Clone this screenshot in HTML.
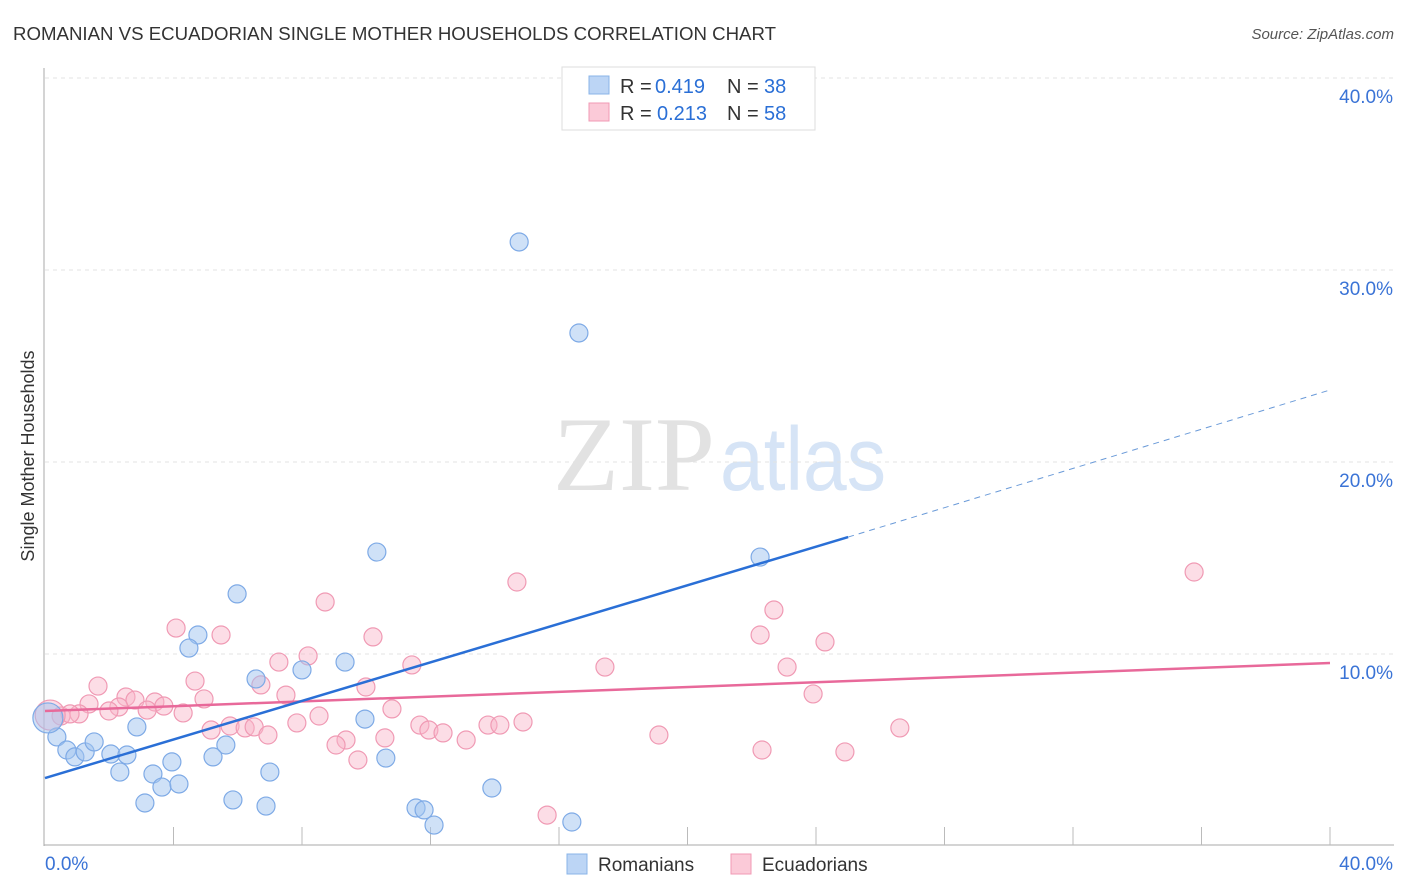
<!DOCTYPE html>
<html><head><meta charset="utf-8"><style>
body{margin:0;background:#fff;font-family:"Liberation Sans",sans-serif;}
svg{display:block}
</style></head><body>
<svg id="chart" width="1406" height="892" xmlns="http://www.w3.org/2000/svg">
<text x="13" y="40" font-size="18" fill="#333" textLength="763" lengthAdjust="spacingAndGlyphs">ROMANIAN VS ECUADORIAN SINGLE MOTHER HOUSEHOLDS CORRELATION CHART</text>
<text x="1394" y="39" font-size="15" fill="#555" text-anchor="end" font-style="italic">Source: ZipAtlas.com</text>
<text x="553" y="490" font-size="106" fill="#e2e2e2" textLength="162" lengthAdjust="spacingAndGlyphs" font-family="Liberation Serif,serif">ZIP</text>
<text x="720" y="490" font-size="90" fill="#d6e4f6" textLength="166" lengthAdjust="spacingAndGlyphs">atlas</text>
<text x="34" y="456" font-size="18" fill="#333" text-anchor="middle" transform="rotate(-90 34 456)">Single Mother Households</text>
<g id="grid"></g><g id="pts"></g><g id="lines"></g>
<g>
<rect x="562" y="67" width="253" height="63" fill="#fff" stroke="#ddd"/>
<rect x="589" y="76" width="20" height="18" fill="#bcd5f5" stroke="#8ab4e8"/>
<rect x="589" y="103" width="20" height="18" fill="#fbcad8" stroke="#f09ab4"/>
<text x="620" y="93" font-size="20" fill="#333">R =</text><text x="655" y="93" font-size="20" fill="#2a6fd6">0.419</text>
<text x="727" y="93" font-size="20" fill="#333">N =</text><text x="764" y="93" font-size="20" fill="#2a6fd6">38</text>
<text x="620" y="120" font-size="20" fill="#333">R =</text><text x="657" y="120" font-size="20" fill="#2a6fd6">0.213</text>
<text x="727" y="120" font-size="20" fill="#333">N =</text><text x="764" y="120" font-size="20" fill="#2a6fd6">58</text>
</g>
<g>
<rect x="567" y="854" width="20" height="20" fill="#bcd5f5" stroke="#8ab4e8"/>
<text x="598" y="871" font-size="19" fill="#333">Romanians</text>
<rect x="731" y="854" width="20" height="20" fill="#fbcad8" stroke="#f09ab4"/>
<text x="762" y="871" font-size="19" fill="#333">Ecuadorians</text>
</g>
</svg>
<script>
const blueX=[14.76,16.62,10.33,22.26,5.98,4.76,4.48,9.34,8.00,6.57,9.96,2.86,0.37,0.68,0.93,1.25,1.53,2.05,2.55,5.63,5.23,3.95,10.61,2.33,3.36,7.00,3.64,4.17,13.91,5.85,3.11,6.88,11.55,11.80,12.11,16.40,0.09];
const blueY=[31.46,26.72,15.31,15.05,13.13,10.99,10.31,9.58,9.17,8.70,6.61,6.20,5.68,5.00,4.64,4.90,5.42,4.79,4.74,5.26,4.64,4.38,4.58,3.85,3.75,3.85,3.07,3.23,3.02,2.40,2.24,2.08,1.98,1.88,1.09,1.25,6.67];
const pinkX=[35.77,14.69,8.72,22.69,4.08,5.48,10.21,22.26,24.28,8.19,7.28,11.42,17.43,23.10,4.67,1.65,6.72,9.99,7.50,2.52,4.95,1.37,2.80,3.42,3.70,2.30,1.99,1.06,3.18,4.30,10.80,8.53,0.50,0.78,7.84,14.88,5.76,6.23,11.67,13.79,14.16,5.17,6.51,11.95,12.39,26.61,6.94,19.11,10.58,9.37,13.11,9.06,22.32,24.90,9.74,15.63,23.91,0.16];
const pinkY=[14.27,13.75,12.71,12.29,11.35,10.99,10.89,10.99,10.63,9.90,9.58,9.43,9.32,9.32,8.59,8.33,8.39,8.28,7.86,7.76,7.66,7.40,7.60,7.50,7.29,7.24,7.03,6.88,7.08,6.93,7.14,6.77,6.77,6.88,6.41,6.46,6.25,6.15,6.30,6.30,6.30,6.04,6.20,6.04,5.89,6.15,5.78,5.78,5.63,5.52,5.52,5.26,5.00,4.90,4.48,1.61,7.92,6.82];
const blueFit=[3.54,16.09,23.75]; // y at x=0, x=25 (solid end), x=40
const pinkFit=[7.03,9.53];
const yTicks=[10,20,30,40];
const xTicks=[4,8,12,16,20,24,28,32,36,40];
const NS='http://www.w3.org/2000/svg';
const sx=v=>45+v*32.125, sy=v=>846-v*19.2;
function mk(tag,a,parent){const e=document.createElementNS(NS,tag);for(const k in a)e.setAttribute(k,a[k]);parent.appendChild(e);return e;}
const grid=document.getElementById('grid'),pts=document.getElementById('pts'),lines=document.getElementById('lines');
yTicks.forEach(t=>{
 const l=mk('line',{x1:45,x2:1394,y1:sy(t),y2:sy(t),stroke:'#e3e3e3','stroke-dasharray':'4,4'},grid);
 
 
 const tx=mk('text',{x:1393,y:sy(t)+25,'font-size':19,fill:'#3a73d6','text-anchor':'end'},grid);
 tx.textContent=t.toFixed(1)+'%';
 
 
});
mk('line',{x1:44,x2:44,y1:68,y2:846,stroke:'#aaa'},grid);
mk('line',{x1:44,x2:1394,y1:845,y2:845,stroke:'#aaa'},grid);
xTicks.forEach(t=>{
 const l=mk('line',{x1:sx(t),x2:sx(t),y1:827,y2:845,stroke:'#bbb'},grid);
 
 
});
const x0=mk('text',{x:45,y:870,'font-size':19,fill:'#3a73d6'},grid);x0.textContent='0.0%';


const x1=mk('text',{x:1393,y:870,'font-size':19,fill:'#3a73d6','text-anchor':'end'},grid);x1.textContent='40.0%';


function dots(X,Y,fill,stroke,name,bigIdx){
 X.forEach((v,i)=>{
  const r=(i===bigIdx)?15:9;
  const c=mk('circle',{cx:sx(v),cy:sy(Y[i]),r:r,fill:fill,stroke:stroke,'stroke-width':1.2},pts);
  
  
 });
}
dots(pinkX,pinkY,'rgba(248,180,200,0.45)','#f09ab4','ecuadorian-point',pinkX.length-1);
dots(blueX,blueY,'rgba(160,196,240,0.5)','#7eaae6','romanian-point',blueX.length-1);
let l=mk('line',{x1:sx(0),y1:sy(pinkFit[0]),x2:sx(40),y2:sy(pinkFit[1]),stroke:'#e8699a','stroke-width':2.5},lines);


l=mk('line',{x1:sx(0),y1:sy(blueFit[0]),x2:sx(25),y2:sy(blueFit[1]),stroke:'#2a6fd6','stroke-width':2.5},lines);


l=mk('line',{x1:sx(25),y1:sy(blueFit[1]),x2:sx(40),y2:sy(blueFit[2]),stroke:'#6a9ad8','stroke-width':1,'stroke-dasharray':'6,5'},lines);


</script>
</body></html>
